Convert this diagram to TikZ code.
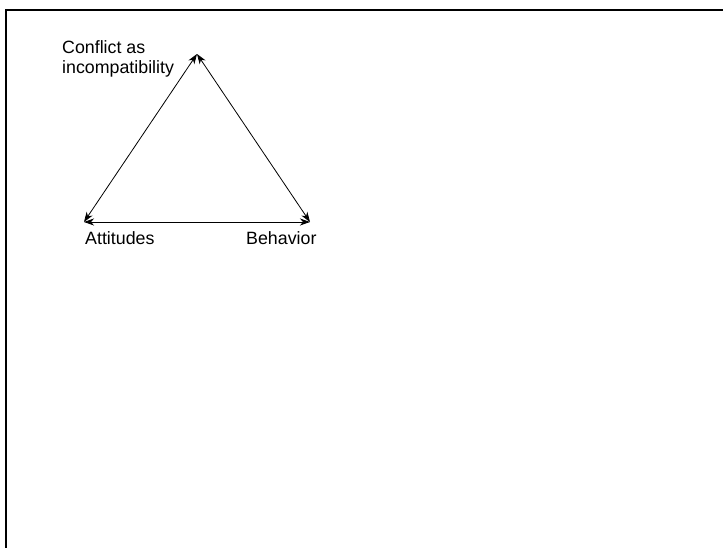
\documentclass[tikz,border=0pt]{standalone}
\usepackage{fontspec}
\setmainfont{Liberation Sans}
\usetikzlibrary{arrows.meta}
\begin{document}
\begin{tikzpicture}[x=1pt,y=-1pt,
  lbl/.style={inner sep=0pt,anchor=base west,align=left,font=\fontsize{17.8}{20}\selectfont},
  link/.style={draw=black,line width=0.8pt,{Stealth[length=10pt,width=7pt,inset=3pt]}-{Stealth[length=10pt,width=7pt,inset=3pt]}},
  frame/.style={line width=2pt}]
\useasboundingbox (0,0) rectangle (723,548);
\draw[frame] (6,548) -- (6,10) -- (723,10);
\coordinate (top) at (197,54);
\coordinate (left) at (84,222);
\coordinate (right) at (310,222);
\draw[link] (left) -- (top);
\draw[link] (top) -- (right);
\draw[link] (left) -- (right);
\node[lbl] (conf) at (62,74) {Conflict as\\incompatibility};
\node[lbl] (att) at (85,245) {Attitudes};
\node[lbl] (beh) at (246,245) {Behavior};
\end{tikzpicture}
\end{document}
